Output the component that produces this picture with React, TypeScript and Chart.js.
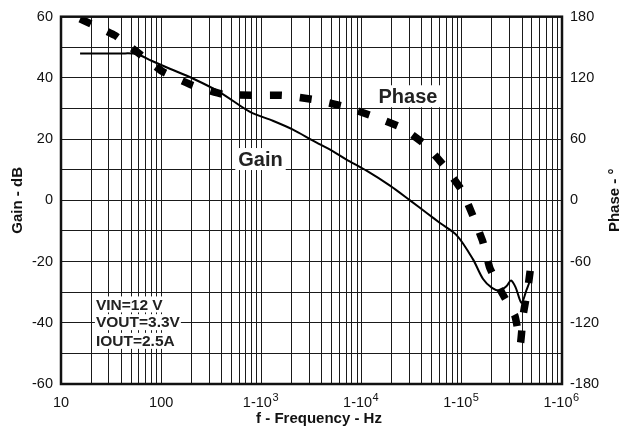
import { useEffect, useRef } from 'react';
import { Chart, registerables } from 'chart.js';

Chart.register(...registerables);

// ---- data ----
const gainFreq = [15.5, 40, 57, 80, 122, 207, 386, 770, 1300, 2066, 3270, 5190, 7000, 11300, 19200, 30400, 45000, 60600, 89500, 129000, 163000, 200000, 240000, 280000, 310000, 345000, 395000, 440000, 470000];
const gainDb = [48, 48, 47.8, 45.6, 43, 39.8, 35.3, 28.9, 26, 23.1, 19.5, 16.0, 13.4, 9.6, 4.8, 0, -4.2, -7.4, -11.5, -19.2, -25.7, -28.6, -29.5, -28, -26.2, -28.5, -33.5, -29.5, -27];

const phaseFreq = [15.5, 34.6, 61, 104, 207, 414, 805, 1607, 3200, 6500, 12700, 25300, 44000, 67900, 100500, 129000, 162000, 190000, 251000, 340000, 385000, 410000, 458000, 495000];
const phaseDeg = [178, 161.7, 143.4, 126, 112.6, 104, 103, 103, 99, 92.4, 82.8, 71.2, 53.9, 32.7, 9.6, -15, -40.4, -66, -90.5, -113.6, -140, -112, -85, -60];

const xDecades = [10, 100, 1000, 10000, 100000, 1000000];
const xDecadeBase = ['10', '100', '1-10', '1-10', '1-10', '1-10'];
const xDecadeExp = ['', '', '3', '4', '5', '6'];

const gainLabelStep = 20;
const phaseTickValues = [-180, -120, -60, 0, 60, 120, 180];

const noteLines = ['VIN=12 V', 'VOUT=3.3V', 'IOUT=2.5A'];
const noteFreq = 22.3;
const noteGain = [-34, -39.8, -45.9];
const phaseLabel = { text: 'Phase', freq: 29000, gain: 34 };
const gainLabel = { text: 'Gain', freq: 980, gain: 13.5 };

const FONT = '"Liberation Sans", Arial, Helvetica, sans-serif';
const TICK_SIZE = 14.5;
const EXP_PAD = '  ';

const xLabel = (i: number) => (xDecadeExp[i] ? xDecadeBase[i] + EXP_PAD : xDecadeBase[i]);

const extras = {
  id: 'extras',
  afterDatasetsDraw(chart: any) {
    const { ctx, scales } = chart;
    const x = scales.x, y = scales.y;
    ctx.save();
    ctx.textBaseline = 'middle';
    ctx.font = `bold 20px ${FONT}`;
    for (const l of [phaseLabel, gainLabel]) {
      const w = ctx.measureText(l.text).width;
      const cx = x.getPixelForValue(l.freq);
      const cy = y.getPixelForValue(l.gain);
      ctx.fillStyle = '#fff';
      ctx.fillRect(cx - w / 2 - 3, cy - 11, w + 6, 22);
      ctx.fillStyle = '#222';
      ctx.textAlign = 'center';
      ctx.fillText(l.text, cx, cy + 1);
    }
    ctx.font = `bold 15.5px ${FONT}`;
    ctx.textAlign = 'left';
    noteLines.forEach((t, i) => {
      const w = ctx.measureText(t).width;
      const lx = x.getPixelForValue(noteFreq);
      const cy = y.getPixelForValue(noteGain[i]);
      ctx.fillStyle = '#fff';
      ctx.fillRect(lx - 1, cy - 8, w + 2, 16);
      ctx.fillStyle = '#222';
      ctx.fillText(t, lx, cy + 1);
    });
    ctx.restore();
  },
  afterDraw(chart: any) {
    const { ctx, chartArea, scales } = chart;
    ctx.save();
    ctx.strokeStyle = '#111';
    ctx.lineWidth = 2.5;
    ctx.strokeRect(chartArea.left, chartArea.top, chartArea.right - chartArea.left, chartArea.bottom - chartArea.top);
    // superscript exponents of the x decade labels
    ctx.fillStyle = '#111';
    xDecades.forEach((d, i) => {
      if (!xDecadeExp[i]) return;
      ctx.font = `${TICK_SIZE}px ${FONT}`;
      const full = ctx.measureText(xLabel(i)).width;
      const base = ctx.measureText(xDecadeBase[i]).width;
      const px = scales.x.getPixelForValue(d);
      ctx.font = `11px ${FONT}`;
      ctx.textAlign = 'left';
      ctx.textBaseline = 'alphabetic';
      ctx.fillText(xDecadeExp[i], px - full / 2 + base + 0.5, chartArea.bottom + 16.5);
    });
    ctx.font = `bold 15px ${FONT}`;
    ctx.textAlign = 'center';
    ctx.textBaseline = 'alphabetic';
    ctx.fillText('f - Frequency - Hz', 319, 423);
    ctx.translate(615, (chartArea.top + chartArea.bottom) / 2);
    ctx.rotate(-Math.PI / 2);
    ctx.textBaseline = 'middle';
    ctx.fillText('Phase - °', 0, 0);
    ctx.restore();
  },
};

export default function App() {
  const ref = useRef<HTMLCanvasElement>(null);
  useEffect(() => {
    if (!ref.current) return;
    const gridColor = '#1a1a1a';
    const tickFont = { family: FONT, size: TICK_SIZE };
    const chart = new Chart(ref.current, {
      type: 'line',
      data: {
        datasets: [
          {
            label: 'Gain',
            data: gainFreq.map((f, i) => ({ x: f, y: gainDb[i] })),
            borderColor: '#000',
            borderWidth: 2,
            pointRadius: 0,
            tension: 0.3,
            yAxisID: 'y',
          },
          {
            label: 'Phase',
            data: phaseFreq.map((f, i) => ({ x: f, y: phaseDeg[i] })),
            borderColor: '#000',
            borderWidth: 7.5,
            borderDash: [12, 18],
            borderCapStyle: 'butt',
            pointRadius: 0,
            tension: 0.1,
            yAxisID: 'y1',
          },
        ],
      },
      options: {
        responsive: false,
        animation: false,
        layout: { padding: { top: 10, left: 0, right: 0, bottom: 0 } },
        plugins: { legend: { display: false }, tooltip: { enabled: false } },
        scales: {
          x: {
            type: 'logarithmic',
            min: 10,
            max: 1000000,
            afterBuildTicks: (scale: any) => {
              const t: any[] = [];
              for (let e = 1; e <= 6; e++) {
                for (let m = 1; m <= 9; m++) {
                  const v = m * Math.pow(10, e);
                  if (v <= 1000000) t.push({ value: v });
                }
              }
              scale.ticks = t;
            },
            afterFit: (scale: any) => { scale.height = 49; },
            grid: { color: gridColor, lineWidth: 1, drawTicks: false },
            border: { display: false },
            ticks: {
              autoSkip: false,
              maxRotation: 0,
              padding: 10,
              color: '#111',
              font: tickFont,
              callback: (value: any) => {
                const idx = xDecades.findIndex((d) => Math.abs(d - Number(value)) < d * 1e-6);
                return idx >= 0 ? xLabel(idx) : '';
              },
            },
          },
          y: {
            position: 'left',
            min: -60,
            max: 60,
            afterFit: (scale: any) => { scale.width = 61; },
            grid: { color: gridColor, lineWidth: 1, drawTicks: false },
            border: { display: false },
            ticks: {
              stepSize: 10,
              padding: 8,
              color: '#111',
              font: tickFont,
              callback: (value: any) => (Number(value) % gainLabelStep === 0 ? String(value) : ''),
            },
            title: {
              display: true,
              text: 'Gain - dB',
              color: '#111',
              font: { family: FONT, size: 15, weight: 'bold' },
              padding: { top: 9, bottom: 0 },
            },
          },
          y1: {
            position: 'right',
            min: -180,
            max: 180,
            afterBuildTicks: (scale: any) => { scale.ticks = phaseTickValues.map((v) => ({ value: v })); },
            afterFit: (scale: any) => { scale.width = 62; },
            grid: { drawOnChartArea: false, drawTicks: false },
            border: { display: false },
            ticks: {
              padding: 8,
              color: '#111',
              font: tickFont,
            },
          },
        },
      },
      plugins: [extras],
    } as any);
    return () => chart.destroy();
  }, []);
  return (
    <div style={{ position: 'fixed', left: 0, top: 0, width: 624, height: 433, background: '#fff' }}>
      <canvas ref={ref} width={624} height={433} style={{ display: 'block' }} />
    </div>
  );
}
